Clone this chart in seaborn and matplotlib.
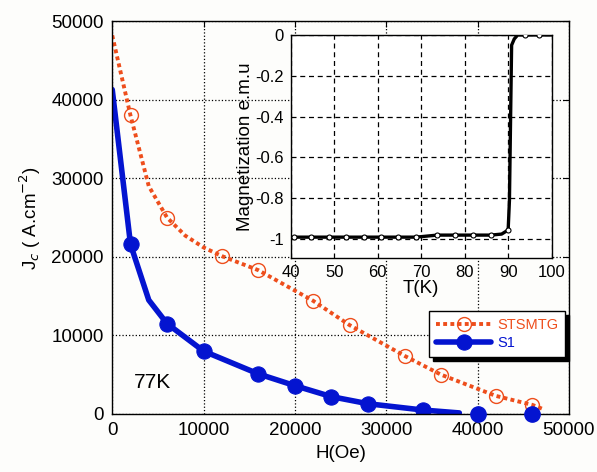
import numpy as np
import matplotlib
matplotlib.use('Agg')
import matplotlib.pyplot as plt
import seaborn as sns

sns.set_style('white')
plt.rcParams['font.family'] = ['Liberation Sans', 'DejaVu Sans']
plt.rcParams['axes.unicode_minus'] = False
plt.rcParams['axes.labelcolor'] = 'black'
plt.rcParams['text.color'] = 'black'

# ---- main panel: Jc vs H at 77K ----
H_st = [0, 2000, 4000, 6000, 8000, 10000, 12000, 14000, 16000, 22000, 26000, 32000, 36000, 42000, 46000, 47200]
J_st = [48200, 38000, 29000, 25000, 22700, 21200, 20100, 19200, 18300, 14400, 11300, 7400, 5000, 2300, 1150, 600]
st_marks = [1, 3, 6, 8, 9, 10, 11, 12, 13, 14]

H_s1 = [0, 2000, 4000, 6000, 10000, 16000, 20000, 24000, 28000, 34000, 38000]
J_s1 = [41300, 21600, 14500, 11500, 8000, 5100, 3600, 2200, 1300, 500, 130]
s1_marks = [1, 3, 4, 5, 6, 7, 8, 9]
H_s1_extra = [40000, 46000]
J_s1_extra = [0, 0]

# ---- inset: magnetization vs T ----
T_line = [40, 40.7, 44.7, 48.7, 52.8, 56.8, 60.8, 64.7, 68.8, 73.7, 77.8, 81.9, 86.0, 88.5,
          90.0, 90.3, 90.6, 90.8, 91.4, 92.2, 93.9, 97.1, 100]
M_line = [-0.995, -0.99, -0.99, -0.99, -0.99, -0.99, -0.99, -0.99, -0.99, -0.98, -0.98, -0.98, -0.98,
          -0.975, -0.955, -0.81, -0.35, -0.05, -0.02, 0, 0, 0, 0]
T_pts = [40.7, 44.7, 48.7, 52.8, 56.8, 60.8, 64.7, 68.8, 73.7, 77.8, 81.9, 86.0, 90.0, 93.9, 97.1]
M_pts = [-0.99, -0.99, -0.99, -0.99, -0.99, -0.99, -0.99, -0.99, -0.98, -0.98, -0.98, -0.98, -0.955, 0, 0]

orange = '#ee4e1c'
blue = '#0414d0'
bg = '#fdfdfb'

fig = plt.figure(figsize=(5.97, 4.72), dpi=100, facecolor=bg)
ax = fig.add_axes([0.188, 0.123, 0.765, 0.832])
ax.set_facecolor(bg)

sns.lineplot(x=H_st, y=J_st, ax=ax, sort=False, estimator=None, color=orange, lw=2.8,
             dashes=False, linestyle=(0, (1, 0.85)), marker='o', markevery=st_marks, ms=10,
             mfc='none', mec=orange, mew=1.0, label='STSMTG', legend=False)
sns.lineplot(x=H_s1, y=J_s1, ax=ax, sort=False, estimator=None, color=blue, lw=4,
             marker='o', markevery=s1_marks, ms=11, mfc=blue, mec=blue, label='S1', legend=False)
ax.plot(H_s1_extra, J_s1_extra, ls='none', marker='o', ms=11, color=blue, clip_on=False, zorder=5)

ax.set_xlim(0, 50000)
ax.set_ylim(0, 50000)
ax.set_xticks(np.arange(0, 50001, 10000))
ax.set_yticks(np.arange(0, 50001, 10000))
ax.tick_params(direction='in', top=True, right=True, length=4, labelsize=13.5, pad=6,
               colors='black', labelcolor='black')
ax.grid(True, color='black', ls=':', lw=0.9)
for sp in ax.spines.values():
    sp.set_color('black')
    sp.set_linewidth(1.0)
ax.set_xlabel('H(Oe)', fontsize=13.5, labelpad=4)
ax.set_ylabel('J$_c$ ( A.cm$^{-2}$)', fontsize=13.5, labelpad=6)
ax.text(4400, 4000, '77K', fontsize=15, ha='center', va='center')

leg = ax.legend(loc='upper right', bbox_to_anchor=(0.991, 0.262), borderaxespad=0, fontsize=10.5,
                frameon=True, fancybox=False, edgecolor='black', framealpha=1,
                shadow={'color': 'black', 'alpha': 1, 'ox': 3, 'oy': -3}, handlelength=3.8,
                handletextpad=0.4, borderpad=0.45, labelspacing=0.3)
leg.get_frame().set_linewidth(1.0)
for txt, c in zip(leg.get_texts(), [orange, blue]):
    txt.set_color(c)

# ---- inset ----
ins = fig.add_axes([0.487, 0.453, 0.437, 0.473])
ins.set_facecolor('white')
ins.plot(T_line, M_line, color='black', lw=2.4, zorder=3)
ins.plot(T_pts, M_pts, ls='none', marker='o', ms=3.6, mfc='white', mec='black', mew=0.8, zorder=4)
ins.set_xlim(40, 100)
ins.set_ylim(-1.093, 0)
ins.set_xticks(np.arange(40, 101, 10))
ins.set_yticks([0, -0.2, -0.4, -0.6, -0.8, -1])
ins.set_yticklabels(['0', '-0.2', '-0.4', '-0.6', '-0.8', '-1'])
ins.tick_params(direction='out', length=3, labelsize=12, pad=2, colors='black', labelcolor='black')
ins.grid(True, color='black', ls='--', lw=0.9, dashes=(4, 3))
for sp in ins.spines.values():
    sp.set_color('black')
    sp.set_linewidth(1.0)
ins.set_xlabel('T(K)', fontsize=13.5, labelpad=0)
ins.set_ylabel('Magnetization e.m.u', fontsize=13.5, labelpad=1)

fig.savefig('out.png', dpi=100, facecolor=bg)
